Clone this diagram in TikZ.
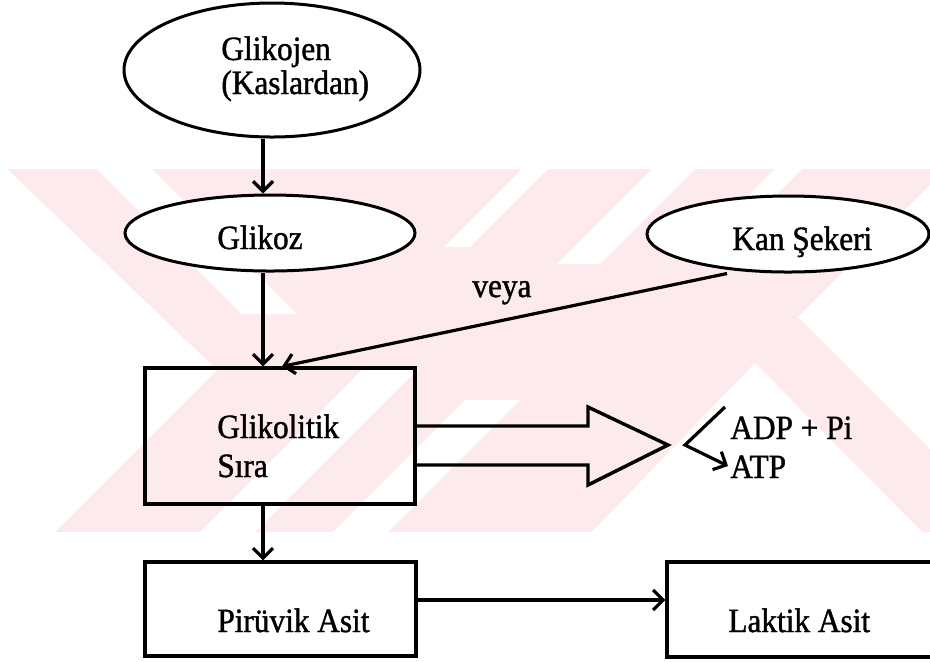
\documentclass[tikz,border=0pt]{standalone}
\usepackage{fontspec}
\setmainfont{Liberation Serif}[FakeStretch=0.92,BoldFont={Liberation Serif},BoldFeatures={FakeBold=1.2}]
\usetikzlibrary{arrows.meta,shapes.geometric}
\definecolor{wm}{RGB}{253,234,237}
\begin{document}
\begin{tikzpicture}[x=0.5pt,y=-0.5pt,
  txt/.style={inner sep=0pt,anchor=base west,text height=11pt,text depth=3pt,font=\fontsize{17}{20}\selectfont\bfseries},
  ell/.style={draw,fill=white,ellipse,line width=1.5pt,inner sep=0pt},
  boxn/.style={draw,rectangle,line width=1.6pt,inner sep=0pt},
  arr/.style={line width=1.6pt,-{Straight Barb[length=5pt,width=10pt,line width=1.6pt]}},
  ln/.style={line width=1.7pt,line join=miter}]
\useasboundingbox (0,0) rectangle (930,661);
\clip (0,0) rectangle (930,661);
\fill[white] (0,0) rectangle (930,661);
% watermark
\fill[wm] (7,169) rectangle (930,532);
\fill[white] (0,169) -- (7,169) -- (217,370) -- (55,532) -- (0,532) -- cycle;
\fill[white] (97,169) -- (152,169) -- (297,314) -- (242,314) -- cycle;
\fill[white] (200,532) -- (255,532) -- (420,367) -- (365,367) -- cycle;
\fill[white] (333,532) -- (388,532) -- (520,400) -- (465,400) -- cycle;
\fill[white] (522,169) -- (548,169) -- (470,247) -- (444,247) -- cycle;
\fill[white] (652,169) -- (695,169) -- (600,264) -- (557,264) -- cycle;
\fill[white] (775,169) -- (802,169) -- (740,231) -- (713,231) -- cycle;
\fill[white] (592,532) -- (755,363) -- (922,532) -- cycle;
\fill[white] (798,317) -- (930,185) -- (930,449) -- cycle;
% coordinates
\coordinate (xa) at (263,0);
\coordinate (xb) at (727,0);
\coordinate (xc) at (282,0);
\coordinate (ya) at (0,600);
\coordinate (yt) at (0,426);
\coordinate (yb) at (0,465);
% shapes
\node[ell,minimum width=148pt,minimum height=67pt] (gkj) at (272,70) {};
\node[ell,minimum width=145pt,minimum height=38pt] (glz) at (270,233) {};
\node[ell,minimum width=141pt,minimum height=38pt] (kan) at (788,234) {};
\node[boxn,minimum width=135pt,minimum height=68pt] (glk) at (280,436) {};
\node[boxn,minimum width=135.5pt,minimum height=47pt] (prv) at (280.5,609) {};
\node[boxn,minimum width=136.5pt,minimum height=47.5pt] (lkt) at (803.5,609.5) {};
% texts
\node[txt] (t1) at (221,60) {Glikojen};
\node[txt] (t2) at (221,94) {(Kaslardan)};
\node[txt] (t3) at (217,249) {Glikoz};
\node[txt] (t4) at (732,250) {Kan Şekeri};
\node[txt] (t5) at (472,297) {veya};
\node[txt] (t6) at (217,438) {Glikolitik};
\node[txt] (t7) at (217,477) {Sıra};
\node[txt] (t8) at (730,439) {ADP + Pi};
\node[txt] (t9) at (730,478) {ATP};
\node[txt] (t10) at (217,632) {Pirüvik Asit};
\node[txt] (t11) at (728,632) {Laktik Asit};
% connectors
\draw[arr] (gkj.south -| xa) -- (glz.north -| xa);
\draw[arr] (glz.south -| xa) -- (glk.north -| xa);
\draw[arr] (kan.south -| xb) -- (glk.north -| xc);
\draw[arr] (glk.south -| xa) -- (prv.north -| xa);
\draw[arr] (prv.east |- ya) -- (lkt.west |- ya);
% hollow arrow
\coordinate (h1) at (588,426);
\coordinate (h2) at (588,407);
\coordinate (h3) at (668,445);
\coordinate (h4) at (588,485);
\coordinate (h5) at (588,465);
\draw[ln] (glk.east |- yt) -- (h1) -- (h2) -- (h3) -- (h4) -- (h5) -- (glk.east |- yb);
% ADP/ATP bracket
\coordinate (b1) at (725,407);
\coordinate (b2) at (685,445);
\coordinate (b3) at (728,466);
\draw[arr,line join=miter] (b1) -- (b2) -- (b3);
\end{tikzpicture}
\end{document}
